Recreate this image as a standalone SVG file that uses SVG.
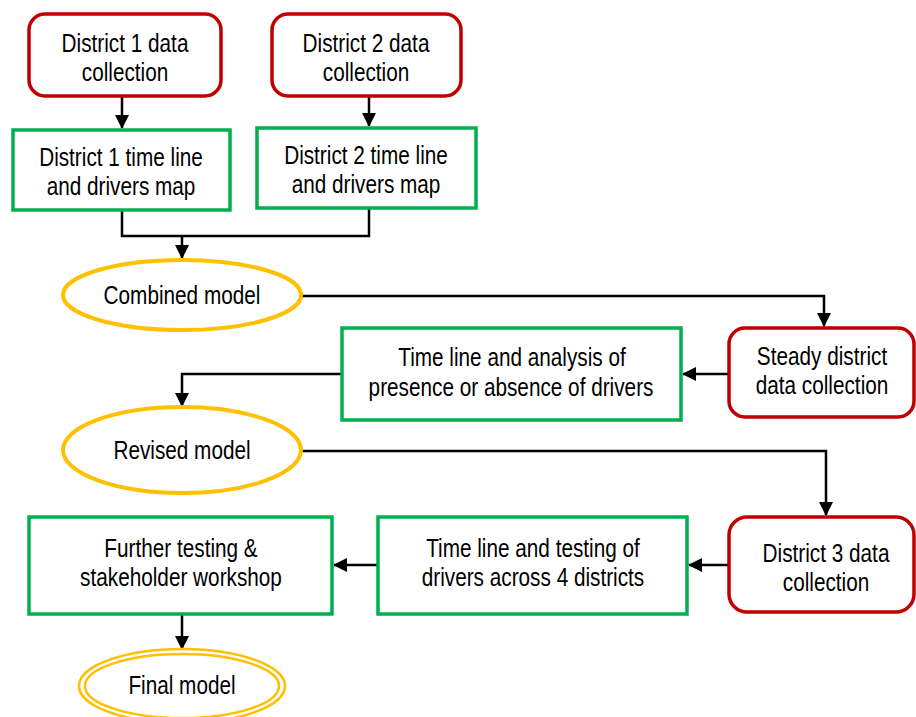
<svg xmlns="http://www.w3.org/2000/svg" width="916" height="717" viewBox="0 0 916 717">
<defs>
<marker id="ah" markerWidth="14" markerHeight="14" viewBox="0 0 14 14" refX="13" refY="7" orient="auto" markerUnits="userSpaceOnUse">
<path d="M0,0 L14,7 L0,14 Z" fill="#000"/>
</marker>
</defs>
<style>
.red{fill:#fff;stroke:#C00000;stroke-width:3.5}
.grn{fill:#fff;stroke:#00B050;stroke-width:3.5}
.yel{fill:#fff;stroke:#FFC000;stroke-width:4}
.yel2{fill:none;stroke:#FFC000;stroke-width:2.5}
.c{fill:none;stroke:#000;stroke-width:2.5}
text{font-family:"Liberation Sans",Arial,sans-serif;font-size:25px;fill:#000;text-anchor:middle}
</style>
<rect width="916" height="717" fill="#fff"/>
<g id="connectors">
<path class="c" d="M122,97 V128" marker-end="url(#ah)"/>
<path class="c" d="M369,97 V126" marker-end="url(#ah)"/>
<path class="c" d="M122,211 V236 H369 V209"/>
<path class="c" d="M182,236 V258" marker-end="url(#ah)"/>
<path class="c" d="M302,296 H824 V326" marker-end="url(#ah)"/>
<path class="c" d="M728,374 H683" marker-end="url(#ah)"/>
<path class="c" d="M341,374 H182 V406" marker-end="url(#ah)"/>
<path class="c" d="M302,451 H826 V515" marker-end="url(#ah)"/>
<path class="c" d="M728,565 H689" marker-end="url(#ah)"/>
<path class="c" d="M378,565 H334" marker-end="url(#ah)"/>
<path class="c" d="M182,615 V649" marker-end="url(#ah)"/>
</g>
<g id="d1data">
<rect class="red" x="29" y="14" width="192" height="82" rx="16"/>
<text transform="translate(125,52) scale(0.83,1)">District 1 data</text>
<text transform="translate(125,81) scale(0.83,1)">collection</text>
</g>
<g id="d2data">
<rect class="red" x="272" y="14" width="189" height="82" rx="16"/>
<text transform="translate(366,52) scale(0.83,1)">District 2 data</text>
<text transform="translate(366,81) scale(0.83,1)">collection</text>
</g>
<g id="d1map">
<rect class="grn" x="13" y="130" width="217" height="80"/>
<text transform="translate(121,166) scale(0.83,1)">District 1 time line</text>
<text transform="translate(121,195) scale(0.83,1)">and drivers map</text>
</g>
<g id="d2map">
<rect class="grn" x="257" y="128" width="219" height="80"/>
<text transform="translate(366,164) scale(0.83,1)">District 2 time line</text>
<text transform="translate(366,193) scale(0.83,1)">and drivers map</text>
</g>
<g id="combined">
<ellipse class="yel" cx="182" cy="295" rx="119" ry="35"/>
<text transform="translate(182,304) scale(0.83,1)">Combined model</text>
</g>
<g id="steady">
<rect class="red" x="729" y="328" width="185" height="89" rx="16"/>
<text transform="translate(822,365) scale(0.83,1)">Steady district</text>
<text transform="translate(822,394) scale(0.83,1)">data collection</text>
</g>
<g id="analysis">
<rect class="grn" x="342" y="328" width="339" height="92"/>
<text transform="translate(512,366) scale(0.83,1)">Time line and analysis of</text>
<text transform="translate(511,396) scale(0.83,1)">presence or absence of drivers</text>
</g>
<g id="revised">
<ellipse class="yel" cx="182" cy="450" rx="119" ry="43"/>
<text transform="translate(182,459) scale(0.83,1)">Revised model</text>
</g>
<g id="d3data">
<rect class="red" x="729" y="517" width="185" height="95" rx="18"/>
<text transform="translate(826,562) scale(0.83,1)">District 3 data</text>
<text transform="translate(826,591) scale(0.83,1)">collection</text>
</g>
<g id="testing4">
<rect class="grn" x="378" y="517" width="309" height="97"/>
<text transform="translate(533,557) scale(0.83,1)">Time line and testing of</text>
<text transform="translate(533,586) scale(0.83,1)">drivers across 4 districts</text>
</g>
<g id="further">
<rect class="grn" x="29" y="517" width="303" height="97"/>
<text transform="translate(181,557) scale(0.83,1)">Further testing &amp;</text>
<text transform="translate(181,586) scale(0.83,1)">stakeholder workshop</text>
</g>
<g id="final">
<ellipse class="yel2" cx="182" cy="686" rx="103" ry="37"/>
<ellipse class="yel2" cx="182" cy="686" rx="97" ry="32"/>
<text transform="translate(182,694) scale(0.83,1)">Final model</text>
</g>
</svg>
